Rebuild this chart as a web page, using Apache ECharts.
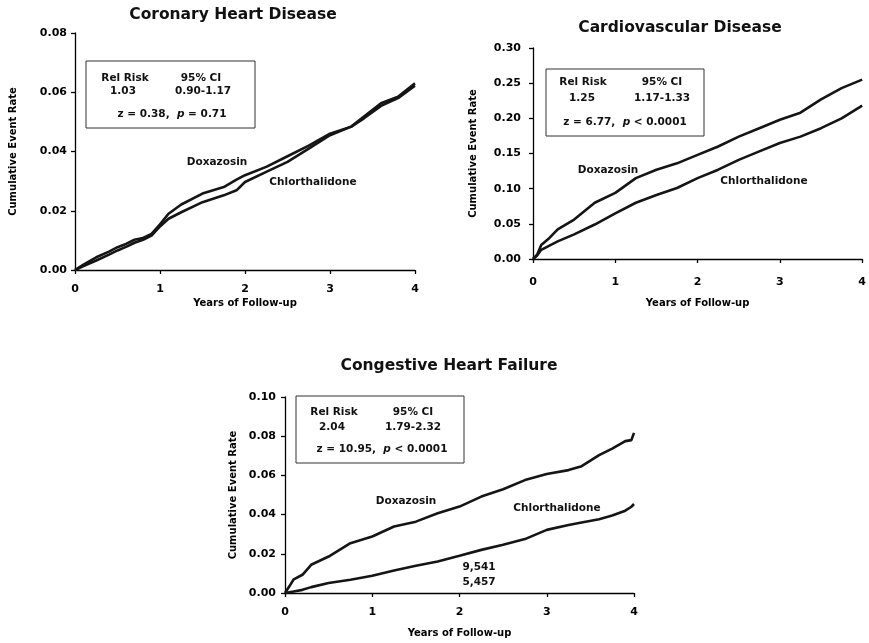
<!DOCTYPE html>
<html>
<head>
<meta charset="utf-8">
<script src="https://cdn.jsdelivr.net/npm/echarts@6/dist/echarts.min.js"></script>
<style>html,body{margin:0;padding:0;background:#fff}#c{width:869px;height:643px}</style>
</head>
<body>
<div id="c"></div>
<script>
// ---- Data ----
const titles = ['Coronary Heart Disease', 'Cardiovascular Disease', 'Congestive Heart Failure'];
const xTicks = [0, 1, 2, 3, 4];
const xName = 'Years of Follow-up';
const yName = 'Cumulative Event Rate';

const chdYears = [0, 0.1, 0.25, 0.4, 0.5, 0.6, 0.7, 0.8, 0.9, 1.0, 1.1, 1.25, 1.5, 1.75, 1.9, 2.0, 2.25, 2.5, 2.75, 3.0, 3.25, 3.4, 3.6, 3.8, 4.0];
const chdDox = [0, 0.0018, 0.0043, 0.0062, 0.0077, 0.0088, 0.0102, 0.0108, 0.0122, 0.0154, 0.0190, 0.0221, 0.0258, 0.0280, 0.0305, 0.0320, 0.0348, 0.0384, 0.0420, 0.0460, 0.0484, 0.0518, 0.0563, 0.0585, 0.0630];
const chdChl = [0, 0.0013, 0.0032, 0.0052, 0.0066, 0.0078, 0.0092, 0.0102, 0.0116, 0.0147, 0.0173, 0.0195, 0.0229, 0.0252, 0.0269, 0.0297, 0.0331, 0.0365, 0.0410, 0.0455, 0.0484, 0.0512, 0.0554, 0.0580, 0.0622];

const cvdYears = [0, 0.05, 0.1, 0.2, 0.3, 0.5, 0.75, 1.0, 1.25, 1.5, 1.75, 2.0, 2.25, 2.5, 2.75, 3.0, 3.25, 3.5, 3.75, 4.0];
const cvdDox = [0, 0.006, 0.020, 0.030, 0.042, 0.056, 0.080, 0.094, 0.115, 0.127, 0.136, 0.148, 0.160, 0.174, 0.186, 0.198, 0.208, 0.227, 0.243, 0.255];
const cvdChl = [0, 0.005, 0.013, 0.019, 0.025, 0.035, 0.049, 0.065, 0.080, 0.091, 0.101, 0.115, 0.127, 0.141, 0.153, 0.165, 0.174, 0.186, 0.200, 0.218];

const chfYears = [0, 0.05, 0.1, 0.2, 0.3, 0.5, 0.75, 1.0, 1.25, 1.5, 1.75, 2.0, 2.25, 2.5, 2.75, 3.0, 3.25, 3.4, 3.6, 3.75, 3.9, 3.97, 4.0];
const chfDox = [0, 0.0034, 0.0070, 0.0093, 0.0144, 0.0186, 0.0254, 0.0288, 0.0339, 0.0364, 0.0407, 0.0441, 0.0492, 0.0529, 0.0576, 0.0607, 0.0627, 0.0647, 0.0703, 0.0737, 0.0775, 0.0780, 0.0817];
const chfChl = [0, 0.0004, 0.0008, 0.0016, 0.0030, 0.0051, 0.0068, 0.0088, 0.0115, 0.0139, 0.0161, 0.0190, 0.0220, 0.0246, 0.0275, 0.0322, 0.0347, 0.0360, 0.0376, 0.0395, 0.0420, 0.0440, 0.0454];

const relRisk = ['1.03', '1.25', '2.04'];
const ci = ['0.90-1.17', '1.17-1.33', '1.79-2.32'];
const zVals = ['0.38', '6.77', '10.95'];
const pVals = ['= 0.71', '< 0.0001', '< 0.0001'];
const nAtRisk = ['9,541', '5,457'];

// ---- Layout ----
const F = 'DejaVu Sans, Liberation Sans, Arial, sans-serif';
const grids = [
  {left: 75, top: 33, width: 340, height: 237},
  {left: 533, top: 48, width: 333, height: 211},
  {left: 285, top: 397, width: 349, height: 196}
];
const yMax = [0.08, 0.30, 0.10];
const yInt = [0.02, 0.05, 0.02];
const xLabelMargin = [14, 18, 14];
const yLabelMargin = [8, 12, 9];
const xNameGap = [28, 39, 35];
const yNameGap = [57, 55, 47];

function pairs(xs, ys) { return xs.map((x, i) => [x, ys[i]]); }

const axisLineStyle = {lineStyle: {color: '#000', width: 1.3}};
const xAxes = grids.map((g, i) => ({
  type: 'value', gridIndex: i, min: 0, max: 4, interval: 1,
  axisLine: {show: true, ...axisLineStyle},
  axisTick: {show: true, length: 4, lineStyle: {color: '#000', width: 1.3}},
  axisLabel: {margin: xLabelMargin[i], color: '#000', fontFamily: F, fontWeight: 'bold', fontSize: 11},
  splitLine: {show: false},
  name: xName, nameLocation: 'middle', nameGap: xNameGap[i],
  nameTextStyle: {color: '#000', fontFamily: F, fontWeight: 'bold', fontSize: 10}
}));
const yAxes = grids.map((g, i) => ({
  type: 'value', gridIndex: i, min: 0, max: yMax[i], interval: yInt[i],
  axisLine: {show: true, ...axisLineStyle},
  axisTick: {show: true, length: 4, lineStyle: {color: '#000', width: 1.3}},
  axisLabel: {margin: yLabelMargin[i], color: '#000', fontFamily: F, fontWeight: 'bold', fontSize: 11,
    formatter: v => v.toFixed(2)},
  splitLine: {show: false},
  name: yName, nameLocation: 'middle', nameGap: yNameGap[i],
  nameTextStyle: {color: '#000', fontFamily: F, fontWeight: 'bold', fontSize: 10}
}));

const lineStyle = {color: '#151515', width: 2.6};
const mk = (name, idx, xs, ys) => ({
  name, type: 'line', xAxisIndex: idx, yAxisIndex: idx, data: pairs(xs, ys),
  showSymbol: false, symbol: 'none', lineStyle, silent: true, animation: false
});
const series = [
  mk('Doxazosin', 0, chdYears, chdDox), mk('Chlorthalidone', 0, chdYears, chdChl),
  mk('Doxazosin', 1, cvdYears, cvdDox), mk('Chlorthalidone', 1, cvdYears, cvdChl),
  mk('Doxazosin', 2, chfYears, chfDox), mk('Chlorthalidone', 2, chfYears, chfChl)
];

function txt(x, y, text, size, extra) {
  return Object.assign({type: 'text', x, y, style: {text, fill: '#111', font: 'bold ' + size + 'px ' + F,
    textAlign: 'center', textVerticalAlign: 'middle'}, z: 10}, extra || {});
}
function richTxt(x, y, z, p) {
  return {type: 'text', x, y, z: 10, style: {
    text: '{n|z = ' + z + ',  }{i|p}{n| ' + p + '}', textAlign: 'center', textVerticalAlign: 'middle',
    rich: {n: {font: 'bold 10.5px ' + F, fill: '#111'}, i: {font: 'italic bold 10.5px ' + F, fill: '#111'}}
  }};
}
const titlePos = [[233, 15], [680, 28], [449, 366]];
const boxes = [[86, 61, 169, 67], [546, 69, 158, 67], [296, 396, 168, 67]];
const boxText = [
  {rr: [125, 78], rv: [123, 91], ci: [201, 78], cv: [203, 91], z: [172, 114]},
  {rr: [583, 82], rv: [582, 98], ci: [662, 82], cv: [662, 98], z: [625, 122]},
  {rr: [334, 412], rv: [332, 427], ci: [413, 412], cv: [413, 427], z: [382, 449]}
];
const seriesLabels = [
  [[217, 162], [313, 182]],
  [[608, 170], [764, 181]],
  [[406, 501], [557, 508]]
];

const graphic = [];
titles.forEach((t, i) => graphic.push(txt(titlePos[i][0], titlePos[i][1], t, 15.5)));
boxes.forEach((b, i) => {
  graphic.push({type: 'rect', shape: {x: b[0], y: b[1], width: b[2], height: b[3]},
    style: {fill: '#fff', stroke: '#333', lineWidth: 1}, z: 5});
  const bt = boxText[i];
  graphic.push(txt(bt.rr[0], bt.rr[1], 'Rel Risk', 10.5));
  graphic.push(txt(bt.rv[0], bt.rv[1], relRisk[i], 10.5));
  graphic.push(txt(bt.ci[0], bt.ci[1], '95% CI', 10.5));
  graphic.push(txt(bt.cv[0], bt.cv[1], ci[i], 10.5));
  graphic.push(richTxt(bt.z[0], bt.z[1], zVals[i], pVals[i]));
  graphic.push(txt(seriesLabels[i][0][0], seriesLabels[i][0][1], 'Doxazosin', 10.5));
  graphic.push(txt(seriesLabels[i][1][0], seriesLabels[i][1][1], 'Chlorthalidone', 10.5));
});
graphic.push(txt(479, 567, nAtRisk[0], 10.5));
graphic.push(txt(479, 582, nAtRisk[1], 10.5));

const chart = echarts.init(document.getElementById('c'));
chart.setOption({
  animation: false,
  backgroundColor: '#fff',
  grid: grids.map(g => Object.assign({containLabel: false}, g)),
  xAxis: xAxes,
  yAxis: yAxes,
  series,
  graphic
});
</script>
</body>
</html>
